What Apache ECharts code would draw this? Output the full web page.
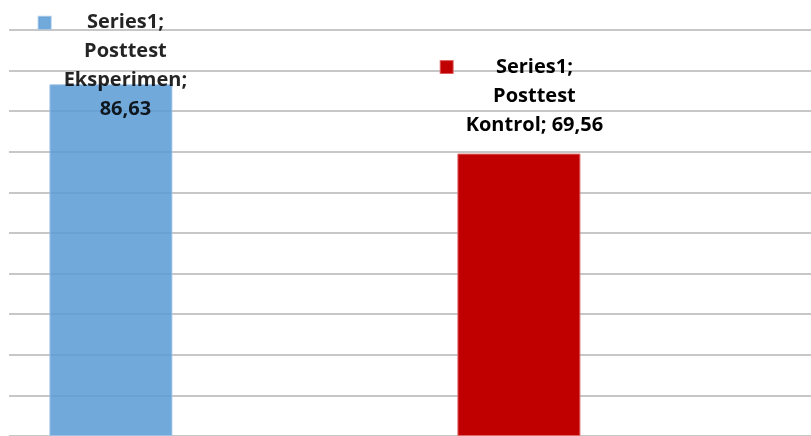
<!DOCTYPE html>
<html>
<head>
<meta charset="utf-8">
<script src="https://cdn.jsdelivr.net/npm/echarts@6/dist/echarts.min.js"></script>
<style>
  html, body { margin: 0; padding: 0; background: #fff; }
  #chart { width: 811px; height: 436px; }
</style>
</head>
<body>
<div id="chart"></div>
<script>
const seriesName = 'Series1'
const categories = ['Posttest Eksperimen', 'Posttest Kontrol']
const values = [86.63, 69.56]
const barColors = ['#5B9BD5', '#C00000']
const barOpacity = [0.86, 1]
const labelOffsets = [[2, 45], [3, -9]]

// wrap "Series1; Category; value" like the original data label
function wrapLabel(name, value) {
  const words = `${seriesName}; ${name}; ${String(value).replace('.', ',')}`.split(' ')
  const lines = []
  let cur = ''
  words.forEach(w => {
    const next = cur ? cur + ' ' + w : w
    if (next.length > 14 && cur) {
      lines.push(cur)
      cur = w
    } else {
      cur = next
    }
  })
  lines.push(cur)
  return lines
}

const font = 'Open Sans'

const barData = values.map((v, i) => ({
  value: v,
  itemStyle: {
    color: barColors[i],
    opacity: barOpacity[i],
    borderColor: i === 0 ? '#9DC3E6' : '#E06666',
    borderWidth: 1
  },
  label: {
    show: true,
    position: 'top',
    offset: labelOffsets[i],
    formatter: () => wrapLabel(categories[i], v)
      .map((l, j) => (j === 0 ? '{k|}{g|}' : '{s|}') + '{t|' + l + '}')
      .join('\n'),
    rich: {
      k: {
        align: 'left',
        width: 12, height: 12, lineHeight: 29,
        backgroundColor: barColors[i],
        borderColor: i === 0 ? '#9DC3E6' : '#E06666',
        borderWidth: 1
      },
      g: { align: 'left', width: 13, lineHeight: 29 },
      s: { align: 'left', width: 25, lineHeight: 29 },
      t: {
        align: 'center',
        fontFamily: font,
        fontWeight: 'bold',
        fontSize: 20,
        lineHeight: 29,
        color: '#000'
      }
    }
  }
}))

const chart = echarts.init(document.getElementById('chart'), null, { renderer: 'canvas' })
chart.setOption({
  animation: false,
  grid: { left: 9, width: 816, top: 30, bottom: 0, outerBoundsMode: 'none' },
  xAxis: {
    type: 'category',
    data: categories,
    axisLabel: { show: false },
    axisTick: { show: false },
    axisLine: { show: true, lineStyle: { color: '#d9d9d9', width: 1 } }
  },
  yAxis: {
    type: 'value',
    min: 0,
    max: 100,
    interval: 10,
    axisLabel: { show: false },
    axisLine: { show: false },
    axisTick: { show: false },
    splitLine: { lineStyle: { color: '#b4b4b4', width: 1.5 } }
  },
  series: [
    {
      name: seriesName,
      type: 'bar',
      barWidth: 123,
      barGap: '66%',
      data: barData
    },
    {
      // empty second slot that pushes the bars left, as in the source
      name: 'Series2',
      type: 'bar',
      barWidth: 123,
      data: categories.map(() => null)
    }
  ]
})
</script>
</body>
</html>
